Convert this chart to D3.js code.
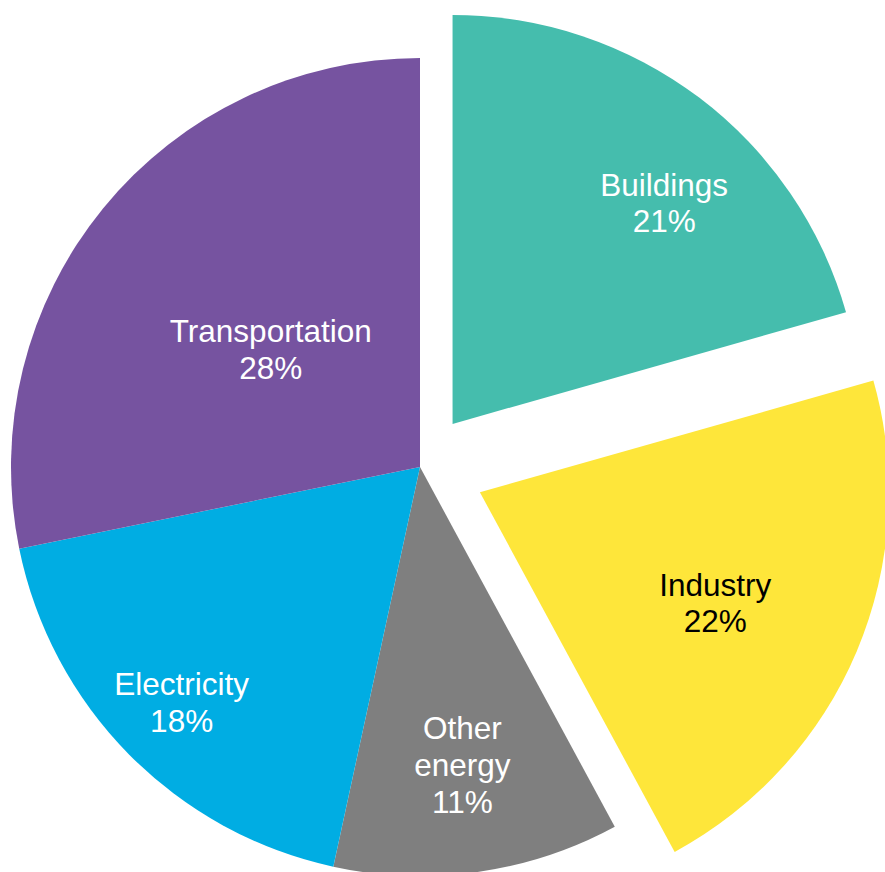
<!DOCTYPE html>
<html>
<head>
<meta charset="utf-8">
<title>Emissions by sector</title>
<script src="https://d3js.org/d3.v7.min.js"></script>
<style>
  body { margin: 0; background: #fff; }
  .label { font-family: "Liberation Sans", Arial, sans-serif; font-size: 31.5px; }
</style>
</head>
<body>
<div id="chart"></div>
<script>
// data (labels are rounded shares)
const categories = ['Buildings', 'Industry', 'Other energy', 'Electricity', 'Transportation'];
const shares = [20.6, 21.5, 11.3, 18.4, 28.2];
const shareLabels = ['21%', '22%', '11%', '18%', '28%'];

// look
const colors = ['#45BDAD', '#FEE63A', '#7F7F7F', '#00ADE3', '#7653A0'];
const textColors = ['#fff', '#000', '#fff', '#fff', '#fff'];
const explode = [54, 65, 0, 0, 0];
const labelRadius = [306, 260, 301, 335, 190];
const labelAngleAt = [0.59, 0.53, 0.5, 0.5, 0.49];   // where in the slice the label sits

const width = 885, height = 872;
const cx = 420, cy = 467, radius = 409;

const svg = d3.select('#chart').append('svg')
  .attr('width', width)
  .attr('height', height);

const g = svg.append('g').attr('transform', `translate(${cx},${cy})`);

const pie = d3.pie().sort(null).value(d => d.value);
const rows = categories.map((c, i) => ({ name: c, value: shares[i], i: i }));
const arcs = pie(rows);

const arc = d3.arc().innerRadius(0).outerRadius(radius);

const slice = g.selectAll('g.slice')
  .data(arcs)
  .enter().append('g')
  .attr('class', 'slice')
  .attr('transform', d => {
    const mid = (d.startAngle + d.endAngle) / 2;
    const off = explode[d.data.i];
    return `translate(${Math.sin(mid) * off},${-Math.cos(mid) * off})`;
  });

slice.append('path')
  .attr('d', arc)
  .attr('fill', d => colors[d.data.i]);

slice.each(function(d) {
  const i = d.data.i;
  const r = labelRadius[i];
  const a = d.startAngle + (d.endAngle - d.startAngle) * labelAngleAt[i];
  const pos = d3.arc().innerRadius(r).outerRadius(r).centroid({ startAngle: a, endAngle: a });
  const lines = d.data.name === 'Other energy'
    ? ['Other', 'energy', shareLabels[i]]
    : [d.data.name, shareLabels[i]];
  const t = d3.select(this).append('text')
    .attr('class', 'label')
    .attr('text-anchor', 'middle')
    .attr('fill', textColors[i])
    .attr('transform', `translate(${pos[0]},${pos[1]})`);
  lines.forEach((s, k) => {
    t.append('tspan')
      .attr('x', 0)
      .attr('dy', k === 0 ? (-(lines.length - 1) / 2 * 1.16 + 0.35) + 'em' : '1.16em')
      .text(s);
  });
});
</script>
</body>
</html>
